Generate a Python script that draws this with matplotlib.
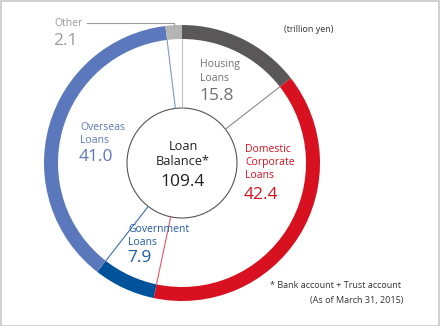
import numpy as np
import matplotlib
matplotlib.use("Agg")
import matplotlib.pyplot as plt
from matplotlib.patches import Circle, Rectangle

plt.rcParams['font.family'] = ['Open Sans', 'DejaVu Sans']

# Loan balance breakdown (trillion yen), clockwise from the top
segments = ["Housing", "Domestic", "Government", "Overseas", "Other"]
values = [15.8, 42.4, 7.9, 41.0, 2.1]
value_labels = ["15.8", "42.4", "7.9", "41.0", "2.1"]
names = ["Housing\nLoans", "Domestic\nCorporate\nLoans", "Government\nLoans",
         "Overseas\nLoans", "Other"]
total_label = "109.4"
ring_colors = ["#595757", "#d7111f", "#00529b", "#5b78bd", "#b4b4b4"]
text_colors = ["#707070", "#d7111f", "#1f5ca8", "#5b78bd", "#9a9a9a"]
line_colors = ["#8a8a8a", "#ea5560", "#3a6fb0", "#7f98d2", "#c0c0c0"]

W, H = 440, 326
fig = plt.figure(figsize=(W / 100, H / 100), dpi=100)
ax = fig.add_axes([0, 0, 1, 1])

cx, cy = 182, 163
r_out, ring_w, r_in = 138, 14, 55

ax.pie(values, colors=ring_colors, radius=r_out, center=(cx, cy),
       startangle=90, counterclock=False,
       wedgeprops=dict(width=ring_w, edgecolor="none"))
ax.set_xlim(0, W)
ax.set_ylim(0, H)
ax.set_aspect("equal")
ax.axis("off")

# radial separators at the end of each segment, inner ring edge -> centre circle
cum = np.cumsum(values) / sum(values)
for frac, col in zip(cum, line_colors):
    ang = np.radians(90 - frac * 360)
    r1 = r_out - ring_w
    ax.plot([cx + r1 * np.cos(ang), cx + r_in * np.cos(ang)],
            [cy + r1 * np.sin(ang), cy + r_in * np.sin(ang)],
            color=col, lw=0.8, solid_capstyle="butt")

ax.add_patch(Circle((cx, cy), r_in, fill=False, edgecolor="#555555", lw=0.8))

# leader for the small "Other" slice
mid = np.radians(90 - (cum[-2] + cum[-1]) / 2 * 360)
ox = cx + r_out * np.cos(mid)
oy = cy + r_out * np.sin(mid)
ax.plot([87, ox, ox], [H - 23, H - 23, oy], color="#9a9a9a", lw=0.8)

def px(x, y):
    return x, H - y

name_fs, num_fs = 7.5, 12.5
# x, centre of name block, centre of number (pixels from the top)
label_pos = {
    "Housing": (200, 71.5, 96),
    "Domestic": (245, 162.5, 195),
    "Government": (128, 236, 258),
    "Overseas": (80, 134, 157),
    "Other": (54, 23, 41),
}
for seg, name, num, tc in zip(segments, names, value_labels, text_colors):
    x, ny, vy = label_pos[seg]
    ax.text(*px(x, ny), name, color=tc, fontsize=name_fs,
            ha="left", va="center", linespacing=1.3)
    ax.text(*px(x - 1, vy), num, color=tc, fontsize=num_fs,
            ha="left", va="center")

ax.text(*px(cx + 1, 154), "Loan\nBalance*", color="#222222", fontsize=9.2,
        ha="center", va="center", linespacing=1.25)
ax.text(*px(cx + 1, 182), total_label, color="#222222", fontsize=12.5,
        ha="center", va="center")

ax.text(*px(333, 30), "(trillion yen)", color="#333333", fontsize=6.5,
        ha="right", va="center")
ax.text(*px(401, 286), "* Bank account + Trust account", color="#333333",
        fontsize=6.5, ha="right", va="center")
ax.text(*px(403, 301), "(As of March 31, 2015)", color="#333333",
        fontsize=6.5, ha="right", va="center")

fig.patches.append(Rectangle((0.5 / W, 0.5 / H), 1 - 1.5 / W, 1 - 1.5 / H,
                             transform=fig.transFigure, fill=False,
                             edgecolor="#c8c8c8", lw=1.2))

fig.savefig("out.png", dpi=100)
